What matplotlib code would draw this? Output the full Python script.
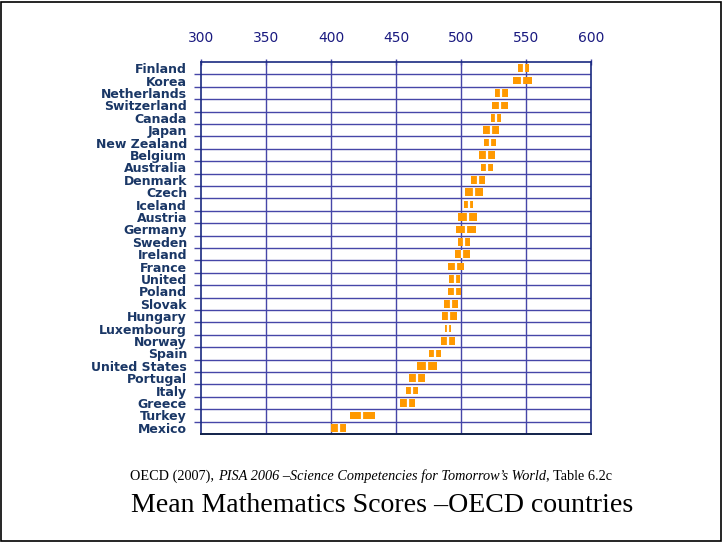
import matplotlib
matplotlib.use('Agg')
import matplotlib.pyplot as plt
from matplotlib.patches import Rectangle

countries = ['Finland', 'Korea', 'Netherlands', 'Switzerland', 'Canada', 'Japan',
             'New Zealand', 'Belgium', 'Australia', 'Denmark', 'Czech', 'Iceland',
             'Austria', 'Germany', 'Sweden', 'Ireland', 'France', 'United', 'Poland',
             'Slovak', 'Hungary', 'Luxembourg', 'Norway', 'Spain', 'United States',
             'Portugal', 'Italy', 'Greece', 'Turkey', 'Mexico']
means = [548, 547, 531, 530, 527, 523, 522, 520, 520, 513, 510, 506, 505, 504, 502,
         501, 496, 495, 495, 492, 491, 490, 490, 480, 474, 466, 462, 459, 424, 406]
lows = [543.5, 539.6, 525.9, 523.7, 523.1, 516.5, 517.3, 514.1, 515.7, 507.9, 502.9,
        502.5, 497.7, 496.4, 497.3, 495.5, 489.7, 490.9, 490.3, 486.5, 485.3, 487.8,
        484.9, 475.5, 466.2, 459.9, 457.5, 453.1, 414.4, 400.3]
highs = [552.5, 554.4, 536.1, 536.3, 530.9, 529.5, 526.7, 525.9, 524.3, 518.1, 517.1,
         509.5, 512.3, 511.6, 506.7, 506.5, 502.3, 499.1, 499.7, 497.5, 496.7, 492.2,
         495.1, 484.5, 481.8, 472.1, 466.5, 464.9, 433.6, 411.7]
xticks = [300, 350, 400, 450, 500, 550, 600]

navy = '#1a3766'
grid = '#4646a8'
orange = '#ff9900'

fig = plt.figure(figsize=(7.23, 5.43), dpi=100)
ax = fig.add_axes([0.278, 0.2007, 0.5396, 0.6851])

ypos = list(range(len(countries)))
widths = [h - l for l, h in zip(lows, highs)]
ax.barh(ypos, widths, left=lows, height=0.62, color=orange, zorder=3)
# white gap at the mean
for y, m in zip(ypos, means):
    ax.plot([m, m], [y - 0.31, y + 0.31], color='white', lw=1.6, zorder=4,
            solid_capstyle='butt')

ax.set_xlim(300, 600)
ax.set_ylim(len(countries) - 0.5, -0.5)

for b in range(1, len(countries)):
    ax.axhline(b - 0.5, color=grid, lw=1.0, zorder=1)
for x in xticks[1:-1]:
    ax.axvline(x, color=grid, lw=1.0, zorder=1)

ax.xaxis.tick_top()
ax.set_xticks(xticks)
ax.tick_params(axis='x', colors=grid, labelcolor='#1a1a80', labelsize=10,
               length=4, width=1, direction='inout', pad=10)

ax.set_yticks(ypos)
ax.set_yticklabels(countries, fontweight='bold', fontsize=9, color=navy)
ax.tick_params(axis='y', length=0, pad=10)
ax.set_yticks([b - 0.5 for b in range(1, len(countries))], minor=True)
ax.tick_params(axis='y', which='minor', length=5, width=1, color=grid, direction='out')

for side in ['left', 'right', 'top']:
    ax.spines[side].set_color('#1a2a80')
    ax.spines[side].set_linewidth(1.2)
ax.spines['bottom'].set_color('#10204a')
ax.spines['bottom'].set_linewidth(1.4)

# captions
t1 = fig.text(0.18, 0.117, 'OECD (2007), ', family='Liberation Serif', fontsize=10.3,
              va='baseline')
t2 = ax.annotate('PISA 2006 \u2013Science Competencies for Tomorrow\u2019s World',
                 xy=(1, 0), xycoords=t1, va='bottom', family='Liberation Serif',
                 fontsize=10.3, style='italic')
ax.annotate(', Table 6.2c', xy=(1, 0), xycoords=t2, va='bottom',
            family='Liberation Serif', fontsize=10.3)
fig.text(0.528, 0.057, 'Mean Mathematics Scores \u2013OECD countries',
         family='Liberation Serif', fontsize=20.1, ha='center', va='baseline')

fig.patches.append(Rectangle((0.002, 0.003), 0.995, 0.994, transform=fig.transFigure,
                             fill=False, edgecolor='black', lw=1.2))

fig.savefig('out.png', dpi=100)
